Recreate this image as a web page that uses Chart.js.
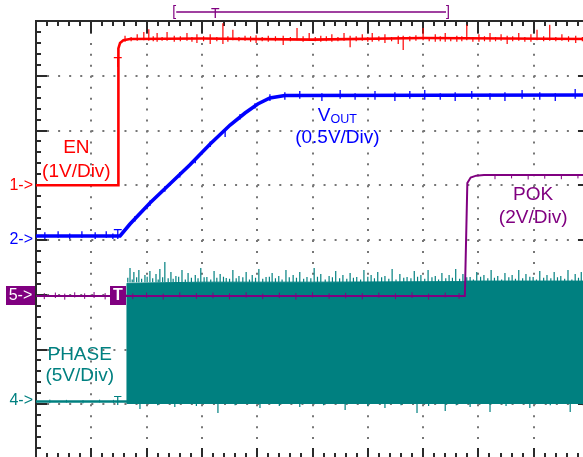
<!DOCTYPE html>
<html><head><meta charset="utf-8">
<script src="https://cdn.jsdelivr.net/npm/chart.js@4.4.1/dist/chart.umd.min.js"></script>
<style>
html,body{margin:0;padding:0;background:#fff;overflow:hidden;width:583px;height:457px}
#wrap{position:relative;width:583px;height:457px;overflow:hidden}
#c{position:absolute;left:0;top:0}
</style>
</head><body><div id="wrap"><canvas id="c" width="600" height="470"></canvas></div>
<script>
// ---------------- DATA ----------------
const X_DIVS = 10;          // horizontal divisions
const Y_DIVS = 8;           // vertical divisions

const CH_NAMES = ['EN', 'VOUT', 'POK', 'PHASE'];
const CH_NUMBERS = ['1', '2', '5', '4'];
const CH_VOLTS_PER_DIV = [1, 0.5, 2, 5];
const CH_GROUND_DIV = [5, 4, 3, 1.06];   // reference level (divisions from bottom)

const TRIGGER_T = 1.48;      // time (div) of the trigger marks
const RECORD_WINDOW = [2.50, 7.45];
const RECORD_TRIGGER = 3.24;

// EN (V) vs time (div)
const EN_T = [0, 1.485, 1.49, 1.52, 1.58, 1.70, 3.0, 5.0, 7.0, 10];
const EN_V = [0, 0, 2.50, 2.60, 2.65, 2.67, 2.68, 2.66, 2.69, 2.67];
// EN noise hairs: [t, Vlow, Vhigh]
const EN_NOISE = [[1.61,2.62,2.73],[1.72,2.63,2.71],[1.83,2.64,2.76],[1.95,2.65,2.80],[2.04,2.64,2.85],[2.12,2.63,2.72],[2.19,2.62,2.78],[2.28,2.64,2.71],[2.37,2.64,2.80],
 [2.50,2.62,2.73],[2.61,2.63,2.72],[2.73,2.64,2.78],[2.82,2.62,2.71],[2.91,2.60,2.76],[3.03,2.63,2.72],[3.15,2.58,2.76],[3.27,2.63,2.71],[3.38,2.58,2.96],[3.47,2.62,2.72],[3.56,2.65,2.84],[3.67,2.63,2.71],[3.78,2.64,2.73],
 [3.88,2.62,2.72],[3.98,2.60,2.74],[4.09,2.63,2.71],[4.20,2.62,2.73],[4.33,2.63,2.72],[4.47,2.56,2.73],[4.60,2.63,2.71],[4.72,2.65,2.87],[4.83,2.62,2.72],[4.94,2.64,2.78],[5.05,2.63,2.71],[5.15,2.62,2.73],[5.25,2.63,2.72],[5.35,2.62,2.76],
 [5.46,2.63,2.71],[5.57,2.64,2.78],[5.68,2.52,2.73],[5.79,2.63,2.72],[5.90,2.64,2.76],[6.00,2.62,2.71],[6.08,2.62,2.78],[6.20,2.63,2.72],[6.31,2.60,2.76],[6.43,2.63,2.71],[6.55,2.58,2.73],[6.64,2.47,2.73],
 [6.76,2.63,2.72],[6.87,2.64,2.74],[7.00,2.65,2.87],[7.11,2.63,2.71],[7.22,2.62,2.76],[7.31,2.63,2.72],[7.40,2.62,2.78],[7.50,2.63,2.71],[7.61,2.62,2.73],[7.70,2.63,2.72],[7.79,2.65,2.93],[7.90,2.62,2.71],[8.01,2.62,2.76],
 [8.11,2.63,2.72],[8.21,2.62,2.78],[8.31,2.63,2.71],[8.41,2.64,2.76],[8.52,2.58,2.73],[8.62,2.63,2.72],[8.73,2.64,2.78],[8.84,2.62,2.71],[8.95,2.62,2.76],[9.06,2.65,2.84],[9.18,2.63,2.72],[9.29,2.64,2.93],
 [9.40,2.63,2.71],[9.51,2.64,2.76],[9.63,2.62,2.72],[9.76,2.60,2.73],[9.88,2.63,2.71]];

// VOUT (V) vs time (div)
const VOUT_T = [0, 1.52, 1.70, 2.06, 2.42, 2.78, 3.15, 3.51, 3.78, 4.01, 4.23, 4.50, 10];
const VOUT_V = [0.037, 0.037, 0.146, 0.338, 0.511, 0.685, 0.877, 1.050, 1.160, 1.242, 1.297, 1.320, 1.324];
const VOUT_NOISE = [[0.16,0.01,0.07],[0.40,0.02,0.08],[0.61,0.01,0.06],[0.83,0.02,0.08],[1.07,0.01,0.07],[1.27,0.02,0.08],[1.39,0.01,0.06],
 [1.79,0.17,0.22],[2.06,0.31,0.36],[2.33,0.44,0.49],[2.60,0.57,0.62],[2.88,0.70,0.75],[3.15,0.85,0.90],[3.42,0.94,0.99],
 [3.69,1.10,1.15],[3.96,1.20,1.25],[4.23,1.27,1.33],
 [4.50,1.28,1.35],[4.77,1.29,1.36],[5.17,1.27,1.34],[5.50,1.29,1.37],[5.77,1.28,1.34],[6.13,1.28,1.36],[6.49,1.27,1.35],
 [6.76,1.29,1.36],[7.03,1.28,1.37],[7.31,1.28,1.34],[7.58,1.27,1.35],[7.88,1.29,1.36],[8.21,1.28,1.34],[8.48,1.27,1.35],
 [8.79,1.29,1.37],[9.11,1.28,1.35],[9.39,1.27,1.34],[9.75,1.29,1.38]];

// POK (V) vs time (div)
const POK_T = [0, 7.755, 7.80, 7.86, 7.96, 8.10, 10];
const POK_V = [-0.05, -0.05, 4.08, 4.28, 4.35, 4.37, 4.37];
const POK_NOISE = [[0.15,-0.16,0.06],[0.35,-0.12,0.08],[0.52,-0.18,0.04],[0.70,-0.10,0.09],[0.88,-0.15,0.05],[1.05,-0.12,0.10],
 [1.25,-0.17,0.06],[1.40,-0.11,0.07],[1.75,-0.16,0.05],[2.00,-0.12,0.08],[2.30,-0.18,0.04],[2.60,-0.10,0.09],[2.90,-0.15,0.06],
 [3.20,-0.13,0.08],[3.50,-0.17,0.05],[3.80,-0.11,0.09],[4.10,-0.16,0.04],[4.40,-0.12,0.08],[4.70,-0.18,0.06],[5.00,-0.10,0.09],
 [5.30,-0.15,0.05],[5.60,-0.13,0.07],[5.90,-0.17,0.06],[6.20,-0.11,0.08],[6.50,-0.16,0.05],[6.80,-0.12,0.09],[7.10,-0.18,0.04],
 [7.40,-0.10,0.08],[7.65,-0.15,0.06],[8.30,4.22,4.40],[8.60,4.25,4.40],[8.90,4.21,4.39],[9.20,4.24,4.40],[9.50,4.22,4.39],[9.80,4.25,4.40]];

// PHASE (V) vs time (div): idle level, then switching envelope
const PHASE_IDLE_T = [0, 1.645];
const PHASE_IDLE_V = [-0.05, -0.05];
const PHASE_IDLE_NOISE = [[0.25,-0.2,0.12],[0.55,-0.15,0.1],[0.85,-0.22,0.08],[1.15,-0.14,0.12],[1.40,-0.2,0.1]];
const PHASE_SW_T = [1.645, 1.645, 3.0, 5.0, 7.7, 7.8, 10];
const PHASE_SW_HIGH_V = [-0.27, 10.75, 10.85, 10.85, 10.9, 10.95, 10.95];
const PHASE_SW_LOW_V = -0.27;
const PHASE_SW_TOP_V = 10.85;
// ringing spikes above the switching envelope: [t, Vpeak]
const PHASE_SPIKES_HIGH = [[1.70,12.15],[1.77,11.78],[1.86,11.96],[1.97,11.51],[2.06,11.87],[2.17,11.60],[2.24,12.05],[2.33,12.69],
 [2.44,11.78],[2.53,11.42],[2.64,11.96],[2.75,11.69],[2.88,11.51],[2.98,12.15],[3.09,11.32],[3.22,11.87],[3.33,11.60],[3.44,11.23],
 [3.56,11.96],[3.67,11.42],[3.80,11.78],[3.91,11.51],[4.03,12.05],[4.16,11.32],[4.27,11.69],[4.39,11.42],[4.52,11.96],[4.65,11.51],
 [4.77,11.78],[4.90,11.32],[5.03,12.15],[5.15,11.60],[5.30,11.42],[5.42,11.87],[5.55,11.51],[5.68,11.69],[5.80,11.32],[5.93,11.96],
 [6.06,11.51],[6.18,11.78],[6.31,11.42],[6.44,12.05],[6.58,11.60],[6.71,11.32],[6.84,11.87],[6.96,11.51],[7.09,11.96],[7.22,11.42],
 [7.34,11.69],[7.47,11.51],[7.59,12.05],[7.72,11.60],[7.85,11.32],[7.97,11.78],[8.10,11.51],[8.23,11.96],[8.35,11.42],[8.48,11.69],
 [8.61,11.51],[8.73,11.96],[8.86,11.60],[8.99,11.32],[9.11,11.87],[9.24,11.51],[9.37,11.78],[9.49,11.42],[9.62,11.96],[9.75,11.60],[9.86,11.78],
 [1.66,11.25],[1.74,11.1],[1.82,11.3],[1.91,11.15],[2.01,11.35],[2.11,11.2],[2.21,11.1],[2.29,11.3],[2.39,11.2],[2.48,11.15],
 [2.58,11.35],[2.70,11.1],[2.81,11.25],[2.93,11.2],[3.04,11.3],[3.16,11.1],[3.27,11.25],[3.39,11.35],[3.50,11.15],[3.62,11.2],
 [3.74,11.3],[3.86,11.1],[3.97,11.25],[4.10,11.15],[4.22,11.35],[4.33,11.2],[4.45,11.1],[4.58,11.3],[4.71,11.25],[4.84,11.15],
 [4.97,11.2],[5.09,11.35],[5.23,11.1],[5.36,11.3],[5.49,11.2],[5.62,11.15],[5.74,11.25],[5.87,11.1],[6.00,11.35],[6.12,11.2],
 [6.25,11.3],[6.38,11.15],[6.51,11.1],[6.65,11.25],[6.78,11.2],[6.90,11.35],[7.03,11.15],[7.16,11.3],[7.28,11.1],[7.41,11.2],
 [7.53,11.25],[7.66,11.15],[7.79,11.3],[7.91,11.1],[8.04,11.35],[8.17,11.2],[8.29,11.25],[8.42,11.1],[8.55,11.3],[8.67,11.15],
 [8.80,11.2],[8.93,11.35],[9.05,11.1],[9.18,11.25],[9.31,11.2],[9.43,11.3],[9.56,11.15],[9.69,11.1],[9.81,11.25],[9.93,11.2]];
// spikes below the switching envelope: [t, Vmin]
const PHASE_SPIKES_LOW = [[1.88,-0.73],[2.51,-0.55],[3.29,-1.10],[4.05,-0.64],[4.77,-0.55],[5.59,-0.82],[6.31,-0.64],[6.89,-1.10],
 [7.40,-0.91],[7.85,-0.55],[8.21,-1.00],[8.93,-0.64],[9.66,-1.00],[2.20,-0.4],[2.90,-0.45],[3.60,-0.4],[4.40,-0.45],[5.20,-0.4],
 [6.00,-0.45],[6.60,-0.4],[7.10,-0.45],[7.60,-0.4],[8.50,-0.45],[9.30,-0.4],[9.90,-0.45]];

// ---------------- STYLE ----------------
const FONT = '"Liberation Sans", Arial, Helvetica, sans-serif';
const COLORS = ['#ff0000', '#0000ff', '#800080', '#008080'];
const GRID_COLOR = '#767676';
const FRAME_COLOR = '#2a2a2a';
// label placement (time div, level div) for name line and scale line
const LABEL_PLACE = [
  {t: 0.73, d: [5.68, 5.24]},
  {t: 5.45, d: [6.27, 5.86]},
  {t: 8.99, d: [4.83, 4.40]},
  {t: 0.79, d: [1.91, 1.52]}
];
const TRIG_MARK_DIV = [7.16, 4.02, null, 0.99];

const toDiv = (ch, v) => CH_GROUND_DIV[ch] + v / CH_VOLTS_PER_DIV[ch];
const trace = (ch, ts, vs) => ts.map((t, i) => ({x: t, y: toDiv(ch, vs[i])}));
const hairs = (ch, rows) => rows.flatMap(r => [{x: r[0], y: toDiv(ch, r[1])}, {x: r[0], y: toDiv(ch, r[2])}, {x: r[0], y: null}]);
const spikes = (ch, base, rows) => rows.flatMap(r => [{x: r[0], y: toDiv(ch, base)}, {x: r[0], y: toDiv(ch, r[1])}, {x: r[0], y: null}]);

function ds(data, color, width, extra) {
  return Object.assign({data, borderColor: color, backgroundColor: color, borderWidth: width,
    pointRadius: 0, pointHoverRadius: 0, tension: 0, fill: false, spanGaps: false, borderCapStyle: 'butt'}, extra || {});
}

const frameTicks = {
  id: 'frameTicks',
  beforeDatasetsDraw(chart) {
    const {ctx, chartArea: a, scales: {x, y}} = chart;
    ctx.save();
    ctx.strokeStyle = FRAME_COLOR;
    ctx.lineWidth = 2;
    ctx.beginPath();
    for (let i = 0; i <= X_DIVS * 5; i++) {
      const p = Math.round(x.getPixelForValue(i / 5));
      const len = i % 5 === 0 ? 12 : 5;
      ctx.moveTo(p, a.top); ctx.lineTo(p, a.top + len);
      ctx.moveTo(p, a.bottom); ctx.lineTo(p, a.bottom - (i % 5 === 0 ? 11 : 6));
    }
    for (let i = 0; i <= Y_DIVS * 5; i++) {
      const p = Math.round(y.getPixelForValue(i / 5));
      const len = i % 5 === 0 ? 11 : 5;
      ctx.moveTo(a.left, p); ctx.lineTo(a.left + len, p);
      ctx.moveTo(a.right, p); ctx.lineTo(a.right - len, p);
    }
    ctx.stroke();
    ctx.restore();
  }
};

function text(ctx, s, x, y, size, color, align, base, weight) {
  ctx.font = (weight || 'normal') + ' ' + size + 'px ' + FONT;
  ctx.fillStyle = color;
  ctx.textAlign = align || 'center';
  ctx.textBaseline = base || 'middle';
  ctx.fillText(s, x, y);
}

const annotations = {
  id: 'annotations',
  afterDatasetsDraw(chart) {
    const {ctx, chartArea: a, scales: {x, y}} = chart;
    const px = t => x.getPixelForValue(t), py = d => y.getPixelForValue(d);
    ctx.save();
    // channel names and scales
    CH_NAMES.forEach((name, ch) => {
      const L = LABEL_PLACE[ch];
      const cx = px(L.t);
      if (name === 'VOUT') {
        ctx.font = '19px ' + FONT;
        const w1 = ctx.measureText('V').width;
        ctx.font = '12.5px ' + FONT;
        const w2 = ctx.measureText('OUT').width;
        const left = cx - (w1 + w2) / 2;
        text(ctx, 'V', left, py(L.d[0]), 19, COLORS[ch], 'left');
        text(ctx, 'OUT', left + w1, py(L.d[0]) + 4, 12.5, COLORS[ch], 'left');
      } else {
        text(ctx, name, cx, py(L.d[0]), 19, COLORS[ch]);
      }
      text(ctx, '(' + CH_VOLTS_PER_DIV[ch] + 'V/Div)', cx, py(L.d[1]), 19, COLORS[ch]);
    });
    // ground markers
    CH_NUMBERS.forEach((n, ch) => {
      const yy = py(CH_GROUND_DIV[ch]);
      if (ch === 2) {
        ctx.fillStyle = COLORS[ch];
        ctx.fillRect(6, Math.round(yy) - 9, a.left - 7, 19);
        text(ctx, n + '->', (6 + a.left - 1) / 2, yy + 0.5, 16, '#ffffff');
      } else {
        text(ctx, n + '->', a.left - 3, yy, 16, COLORS[ch], 'right');
      }
    });
    // trigger marks on traces
    const tx = px(TRIGGER_T);
    TRIG_MARK_DIV.forEach((d, ch) => {
      if (d === null) return;
      text(ctx, 'T', tx, py(d), ch === 3 ? 13 : 14, COLORS[ch], 'center', 'alphabetic');
    });
    // POK trigger box
    const by = py(CH_GROUND_DIV[2]);
    ctx.fillStyle = COLORS[2];
    ctx.fillRect(Math.round(tx) - 8, Math.round(by) - 9, 16, 19);
    text(ctx, 'T', tx, by + 0.5, 16, '#ffffff', 'center', 'middle', 'bold');
    // record window bracket above the grid
    const x0 = px(RECORD_WINDOW[0]), x1 = px(RECORD_WINDOW[1]), yb = a.top - 9;
    ctx.strokeStyle = COLORS[2];
    ctx.lineWidth = 1.5;
    ctx.beginPath(); ctx.moveTo(x0 + 2, yb); ctx.lineTo(x1 - 2, yb); ctx.stroke();
    text(ctx, '[', x0, yb, 14, COLORS[2]);
    text(ctx, ']', x1, yb, 14, COLORS[2]);
    text(ctx, 'T', px(RECORD_TRIGGER), yb + 6, 14, COLORS[2], 'center', 'alphabetic');
    ctx.restore();
  }
};

const gridAxis = (max, pos, dash) => ({
  type: 'linear', position: pos, min: 0, max: max,
  ticks: {display: false, stepSize: 1},
  grid: {color: GRID_COLOR, lineWidth: 2, drawTicks: false},
  border: {display: true, color: FRAME_COLOR, width: 2, dash: dash, dashOffset: 1}
});

new Chart(document.getElementById('c'), {
  type: 'line',
  data: {
    datasets: [
      ds(trace(0, EN_T, EN_V), COLORS[0], 2.6),
      ds(hairs(0, EN_NOISE), COLORS[0], 1.2),
      ds(trace(1, VOUT_T, VOUT_V), COLORS[1], 3.6),
      ds(hairs(1, VOUT_NOISE), COLORS[1], 1.3),
      ds(trace(2, POK_T, POK_V), COLORS[2], 2),
      ds(hairs(2, POK_NOISE), COLORS[2], 1),
      ds(spikes(3, PHASE_SW_TOP_V, PHASE_SPIKES_HIGH), COLORS[3], 1.2),
      ds(spikes(3, PHASE_SW_LOW_V, PHASE_SPIKES_LOW), COLORS[3], 1.2),
      ds(hairs(3, PHASE_IDLE_NOISE), COLORS[3], 1),
      ds(trace(3, PHASE_IDLE_T, PHASE_IDLE_V), COLORS[3], 2.5),
      ds(trace(3, PHASE_SW_T, PHASE_SW_HIGH_V), COLORS[3], 1, {fill: {value: toDiv(3, PHASE_SW_LOW_V)}})
    ]
  },
  options: {
    responsive: false, animation: false, events: [],
    layout: {padding: {left: 36, top: 21, right: 11, bottom: 11}, autoPadding: false},
    plugins: {legend: {display: false}, tooltip: {enabled: false}, title: {display: false}},
    scales: {
      x: gridAxis(X_DIVS, 'top', [2, 8.95]),
      y: gridAxis(Y_DIVS, 'left', [2, 9.06])
    }
  },
  plugins: [frameTicks, annotations]
});
</script></body></html>
